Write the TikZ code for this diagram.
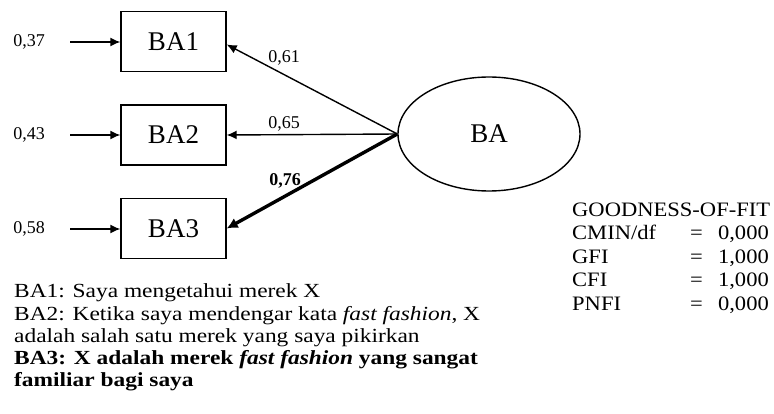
\documentclass[tikz,border=0pt]{standalone}
\usepackage{fontspec}
\setmainfont{Liberation Serif}
\usetikzlibrary{arrows.meta,shapes.geometric}

% horizontally widened text for the caption block and the fit table
\newcommand{\widetxt}[1]{\scalebox{1.17}[1]{#1}}
\newcommand{\widegof}[1]{\scalebox{1.1}[1]{#1}}

\begin{document}
\begin{tikzpicture}[x=1pt,y=-1pt,
  item/.style={draw,line width=1.4pt,minimum width=105pt,minimum height=60pt,inner sep=0pt,
    font=\fontsize{27}{30}\selectfont},
  latent/.style={draw,ellipse,line width=1.4pt,minimum width=182pt,minimum height=114pt,inner sep=0pt,
    font=\fontsize{27}{30}\selectfont},
  errlabel/.style={font=\fontsize{18}{20}\selectfont},
  loadlabel/.style={font=\fontsize{18}{20}\selectfont},
  arr/.style={line width=1.4pt,-{Latex[length=10pt,width=9pt]}},
  boldarr/.style={line width=3.4pt,-{Latex[length=11pt,width=11pt]}},
  txt/.style={anchor=base west,inner sep=0pt,font=\fontsize{20}{22}\selectfont},
  gof/.style={anchor=base west,inner sep=0pt,font=\fontsize{20.5}{22}\selectfont},
  gofval/.style={anchor=base east,inner sep=0pt,font=\fontsize{20.5}{22}\selectfont}]
\useasboundingbox (0,0) rectangle (774,414);

% indicator boxes and latent variable
\node[item] (b1) at (173.5,41.5) {BA1};
\node[item] (b2) at (173.5,135) {BA2};
\node[item] (b3) at (173.5,228.5) {BA3};
\node[latent] (ba) at (489,134) {BA};

% error terms
\node[errlabel] (e1) at (29,42) {0,37};
\node[errlabel] (e2) at (29,135) {0,43};
\node[errlabel] (e3) at (29,229) {0,58};
\coordinate (s1) at (70,42);
\coordinate (s2) at (70,135);
\coordinate (s3) at (70,229);
\draw[arr] (s1) -- (b1.west |- s1);
\draw[arr] (s2) -- (b2.west |- s2);
\draw[arr] (s3) -- (b3.west |- s3);

% loadings
\draw[arr] (ba.west) -- ([yshift=-3pt]b1.east);
\draw[arr] (ba.west) -- (b2.east);
\draw[boldarr] (ba.west) -- (b3.east);
\node[loadlabel] (l1) at (284,58) {0,61};
\node[loadlabel] (l2) at (284,124) {0,65};
\node[loadlabel] (l3) at (285,181) {\textbf{0,76}};

% item wording
\node[txt] (t1) at (14,298) {\widetxt{BA1: Saya mengetahui merek X}};
\node[txt] (t2) at (14,320) {\widetxt{BA2: Ketika saya mendengar kata \textit{fast fashion}, X}};
\node[txt] (t3) at (14,342) {\widetxt{adalah salah satu merek yang saya pikirkan}};
\node[txt] (t4) at (14,364) {\widetxt{\textbf{BA3: X adalah merek \textit{fast fashion} yang sangat}}};
\node[txt] (t5) at (14,386) {\widetxt{\textbf{familiar bagi saya}}};

% fit indices
\node[gof] (g0) at (572,217) {\widegof{GOODNESS-OF-FIT}};
\node[gof] (g1) at (572,240) {\widegof{CMIN/df}};
\node[gof] (g2) at (572,263) {\widegof{GFI}};
\node[gof] (g3) at (572,287) {\widegof{CFI}};
\node[gof] (g4) at (572,310) {\widegof{PNFI}};
\node[gof] (eq1) at (690,240) {\widegof{=}};
\node[gof] (eq2) at (690,263) {\widegof{=}};
\node[gof] (eq3) at (690,287) {\widegof{=}};
\node[gof] (eq4) at (690,310) {\widegof{=}};
\node[gofval] (v1) at (769,240) {\widegof{0,000}};
\node[gofval] (v2) at (769,263) {\widegof{1,000}};
\node[gofval] (v3) at (769,287) {\widegof{1,000}};
\node[gofval] (v4) at (769,310) {\widegof{0,000}};
\end{tikzpicture}
\end{document}
